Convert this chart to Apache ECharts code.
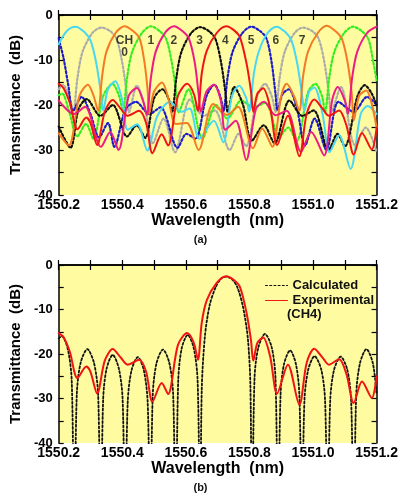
<!DOCTYPE html>
<html>
<head>
<meta charset="utf-8">
<script src="https://cdn.jsdelivr.net/npm/echarts@6/dist/echarts.min.js"></script>
<style>
  html, body { margin: 0; padding: 0; background: #fff; }
  #chart { width: 401px; height: 494px; }
</style>
</head>
<body>
<div id="chart"></div>
<script>
// wavelength (nm), transmittance (dB)

// panel (a): eight demux channels
const ch0 = [[1550.200,-26.3],[1550.232,-29],[1550.265,-18],[1550.292,-15.5],[1550.310,-18],[1550.324,-21.3],[1550.336,-14],[1550.350,-8.2],[1550.379,-4.0],[1550.407,-2.5],[1550.435,-3.6],[1550.455,-5.3],[1550.470,-10.6],[1550.480,-17],[1550.484,-22],[1550.500,-17],[1550.525,-15],[1550.545,-18.5],[1550.568,-24.2],[1550.603,-24],[1550.640,-30],[1550.686,-19.8],[1550.729,-22.2],[1550.764,-20.4],[1550.811,-29.6],[1550.840,-25.2],[1550.872,-29.3],[1550.900,-18],[1550.917,-15.3],[1550.940,-18],[1550.957,-21.3],[1550.968,-14],[1550.984,-8.2],[1551.015,-4],[1551.043,-2.4],[1551.071,-3.6],[1551.091,-5.3],[1551.109,-10.6],[1551.122,-17.5],[1551.128,-23.5],[1551.145,-18],[1551.167,-16.8],[1551.200,-25]];
const ch1 = [[1550.200,-17.8],[1550.211,-17.5],[1550.235,-22],[1550.258,-27],[1550.286,-24.2],[1550.309,-27.5],[1550.340,-18],[1550.369,-15.3],[1550.390,-18],[1550.402,-21.5],[1550.415,-14],[1550.431,-8.2],[1550.462,-4.0],[1550.490,-2.5],[1550.518,-3.6],[1550.538,-5.3],[1550.556,-10.6],[1550.570,-17.5],[1550.577,-21.6],[1550.608,-16.5],[1550.652,-27.5],[1550.695,-20],[1550.730,-23],[1550.775,-19],[1550.812,-20.5],[1550.850,-19.5],[1550.894,-27],[1550.922,-25],[1550.948,-28],[1550.985,-17],[1551.008,-15.3],[1551.028,-18],[1551.038,-21.5],[1551.051,-14],[1551.067,-8.2],[1551.098,-4.0],[1551.126,-2.6],[1551.154,-3.6],[1551.174,-5.3],[1551.190,-10.6],[1551.200,-14.5]];
const ch2 = [[1550.200,-19],[1550.248,-22],[1550.283,-20.4],[1550.333,-29.3],[1550.362,-26],[1550.388,-30],[1550.420,-18],[1550.446,-16.2],[1550.465,-19],[1550.477,-22.2],[1550.490,-14],[1550.505,-8.2],[1550.534,-4],[1550.562,-2.5],[1550.590,-3.6],[1550.610,-5.3],[1550.628,-10.6],[1550.640,-17.5],[1550.647,-21.5],[1550.665,-17],[1550.688,-15.5],[1550.710,-19],[1550.724,-25.5],[1550.757,-23.5],[1550.790,-32.2],[1550.820,-21],[1550.846,-19.3],[1550.882,-22.3],[1550.917,-21.3],[1550.962,-30.4],[1550.994,-26],[1551.035,-31.2],[1551.060,-19],[1551.078,-16],[1551.100,-19],[1551.110,-22],[1551.123,-14],[1551.139,-8.2],[1551.170,-4],[1551.200,-2.6]];
const ch3 = [[1550.200,-24.8],[1550.237,-29.5],[1550.262,-21],[1550.288,-18.7],[1550.331,-22.4],[1550.370,-20],[1550.415,-27],[1550.445,-24.5],[1550.472,-27.3],[1550.500,-18.5],[1550.526,-16.5],[1550.545,-18.5],[1550.557,-21.5],[1550.570,-14],[1550.586,-8.2],[1550.617,-4.0],[1550.645,-2.7],[1550.673,-3.6],[1550.693,-5.3],[1550.711,-10.6],[1550.725,-17.5],[1550.732,-21.6],[1550.752,-16],[1550.780,-20],[1550.807,-28],[1550.845,-24.5],[1550.879,-28.5],[1550.926,-19],[1550.967,-22.4],[1551.002,-21.2],[1551.049,-30],[1551.077,-26.4],[1551.100,-29.2],[1551.140,-18],[1551.163,-15.6],[1551.185,-17.5],[1551.200,-20]];
const ch4 = [[1550.200,-15.3],[1550.215,-16.2],[1550.235,-19.5],[1550.259,-25.4],[1550.287,-22.8],[1550.300,-24],[1550.321,-28.9],[1550.345,-21.5],[1550.370,-18.9],[1550.395,-20.8],[1550.417,-22.4],[1550.453,-21.3],[1550.475,-24],[1550.495,-30.7],[1550.524,-26.5],[1550.544,-29.0],[1550.575,-18],[1550.604,-15.3],[1550.625,-17.5],[1550.638,-21.3],[1550.650,-13],[1550.666,-7.9],[1550.697,-4.0],[1550.727,-2.5],[1550.750,-3.3],[1550.770,-4.9],[1550.791,-10.8],[1550.805,-17],[1550.812,-21.5],[1550.825,-17.5],[1550.843,-16.3],[1550.865,-20.5],[1550.887,-28.9],[1550.921,-22.4],[1550.957,-31.4],[1550.980,-22],[1551.004,-18.8],[1551.030,-20.8],[1551.050,-22.4],[1551.082,-21.2],[1551.105,-24.5],[1551.128,-31.0],[1551.154,-26.2],[1551.185,-29.9],[1551.200,-25]];
const ch5 = [[1550.200,-5.2],[1550.215,-9.5],[1550.230,-15.5],[1550.245,-21.3],[1550.272,-18.2],[1550.300,-22],[1550.327,-27.2],[1550.355,-24],[1550.375,-29.3],[1550.410,-21],[1550.443,-19.3],[1550.485,-22],[1550.520,-20.5],[1550.574,-29.5],[1550.602,-26.4],[1550.630,-27.5],[1550.665,-18],[1550.690,-15.5],[1550.710,-18.5],[1550.718,-21.5],[1550.731,-14],[1550.747,-8.2],[1550.778,-4],[1550.806,-2.6],[1550.834,-3.6],[1550.854,-5.3],[1550.870,-10.6],[1550.882,-17.5],[1550.888,-21],[1550.905,-17.5],[1550.924,-16.5],[1550.950,-21],[1550.975,-29],[1551.005,-23],[1551.042,-30],[1551.080,-19.3],[1551.128,-21.5],[1551.170,-18.2],[1551.200,-20]];
const ch6 = [[1550.200,-6.5],[1550.225,-3.6],[1550.253,-2.6],[1550.281,-3.8],[1550.301,-5.8],[1550.319,-11],[1550.333,-17.5],[1550.340,-21.3],[1550.355,-16.5],[1550.378,-14.7],[1550.400,-19],[1550.417,-25.5],[1550.447,-24.3],[1550.479,-30.1],[1550.510,-22.5],[1550.550,-19.3],[1550.585,-21.5],[1550.612,-20.8],[1550.642,-27.5],[1550.688,-23.5],[1550.718,-28.3],[1550.745,-18],[1550.768,-15.7],[1550.790,-18.5],[1550.799,-21.5],[1550.814,-13],[1550.830,-8],[1550.857,-4],[1550.885,-2.6],[1550.913,-3.8],[1550.933,-5.8],[1550.951,-11],[1550.965,-17.5],[1550.973,-21.3],[1550.988,-17],[1551.004,-16.1],[1551.030,-22],[1551.052,-30.5],[1551.082,-26.7],[1551.118,-34.2],[1551.150,-22],[1551.172,-20.2],[1551.200,-22]];
const ch7 = [[1550.200,-16.5],[1550.213,-15.5],[1550.235,-18.5],[1550.246,-21.5],[1550.259,-14],[1550.275,-8.2],[1550.306,-4.0],[1550.334,-2.8],[1550.362,-3.6],[1550.382,-5.3],[1550.400,-10.6],[1550.414,-17.5],[1550.421,-21.6],[1550.446,-15.7],[1550.470,-20],[1550.496,-28.5],[1550.530,-23],[1550.566,-30.5],[1550.613,-18.8],[1550.656,-22.4],[1550.691,-21.2],[1550.738,-30],[1550.766,-26.4],[1550.789,-29.2],[1550.825,-18],[1550.849,-15.3],[1550.870,-18],[1550.882,-21.5],[1550.895,-14],[1550.911,-8.2],[1550.942,-4],[1550.969,-2.8],[1550.998,-3.6],[1551.018,-5.3],[1551.036,-10.6],[1551.050,-17.5],[1551.057,-21.6],[1551.088,-16],[1551.132,-28.9],[1551.166,-25],[1551.200,-30.5]];

const chPeak = [1550.407, 1550.490, 1550.562, 1550.643, 1550.724, 1550.805, 1550.883, 1550.966];
const chNames = ['CH\n0', '1', '2', '3', '4', '5', '6', '7'];

// panel (b): CH4, calculated vs experimental (experimental = ch4)
const calcCh4 = [[1550.200,-16.5],[1550.210,-16],[1550.229,-19],[1550.241,-26],[1550.249,-60],
  [1550.257,-29],[1550.269,-22],[1550.290,-18.9],[1550.311,-22],[1550.324,-29],[1550.332,-60],
  [1550.340,-30],[1550.351,-23.2],[1550.370,-20.2],[1550.389,-23.2],[1550.401,-30],[1550.409,-60],
  [1550.417,-31],[1550.429,-23.7],[1550.449,-20.7],[1550.468,-23.7],[1550.480,-31],[1550.488,-60],
  [1550.496,-29],[1550.508,-22],[1550.528,-19],[1550.548,-22],[1550.560,-29],[1550.568,-60],
  [1550.576,-26],[1550.587,-18.7],[1550.606,-15.7],[1550.625,-18.7],[1550.637,-26],[1550.645,-60],
  [1550.650,-28],[1550.660,-16],[1550.675,-9],[1550.695,-4.8],[1550.712,-3],[1550.727,-2.6],[1550.745,-3.2],[1550.762,-5],[1550.780,-9.5],[1550.795,-16.5],[1550.803,-27],[1550.808,-60],
  [1550.816,-25.5],[1550.828,-18.5],[1550.849,-15.5],[1550.870,-18.5],[1550.882,-25.5],[1550.890,-60],
  [1550.898,-29],[1550.909,-22.2],[1550.928,-19.2],[1550.946,-22.2],[1550.957,-29],[1550.965,-60],
  [1550.973,-30.5],[1550.985,-23.5],[1551.005,-20.5],[1551.026,-23.5],[1551.038,-30.5],[1551.046,-60],
  [1551.054,-30.6],[1551.066,-23.6],[1551.087,-20.6],[1551.108,-23.6],[1551.120,-30.6],[1551.128,-60],
  [1551.136,-29],[1551.148,-22],[1551.168,-18.9],[1551.188,-22],[1551.200,-29]];

const FONT = '"Liberation Sans", Arial, sans-serif';
const PLOT_BG = '#FFFBA0';
const GRID_A = {left: 57, top: 15, width: 321, height: 180};
const GRID_B = {left: 57, top: 265, width: 321, height: 178};

const chColors = ['#F47A24', '#33EE22', '#EC1C84', '#111111', '#F01414', '#1C1CCC', '#48D8F4', '#ABABAB'];
const chDotted = [false, true, false, true, false, true, false, true];
const drawOrder = [7, 1, 5, 3, 6, 0, 2, 4];

function xAxisPair(grid) {
    const base = {
        type: 'value', gridIndex: grid, min: 1550.2, max: 1551.2, interval: 0.2,
        axisLine: {show: true, lineStyle: {color: '#000', width: 1.5}},
        axisTick: {show: true, inside: true, length: 5, lineStyle: {color: '#000', width: 1.2}},
        minorTick: {show: true, splitNumber: 2, length: 5, lineStyle: {color: '#000', width: 1.2}},
        splitLine: {show: false}
    };
    return [
        Object.assign({}, base, {
            position: 'bottom',
            name: 'Wavelength  (nm)', nameLocation: 'middle', nameGap: 15,
            nameTextStyle: {fontFamily: FONT, fontWeight: 'bold', fontSize: 16, color: '#000'},
            axisLabel: {margin: 3, fontFamily: FONT, fontWeight: 'bold', fontSize: 14, color: '#000',
                formatter: v => v.toFixed(1)}
        }),
        Object.assign({}, base, {position: 'top', axisLabel: {show: false}})
    ];
}

function yAxisPair(grid) {
    const base = {
        type: 'value', gridIndex: grid, min: -40, max: 0, interval: 10,
        axisLine: {show: true, lineStyle: {color: '#000', width: 1.5}},
        axisTick: {show: true, inside: true, length: 5, lineStyle: {color: '#000', width: 1.2}},
        minorTick: {show: true, splitNumber: 2, length: 5, lineStyle: {color: '#000', width: 1.2}},
        splitLine: {show: false}
    };
    return [
        Object.assign({}, base, {
            position: 'left',
            name: 'Transmittance  (dB)', nameLocation: 'middle', nameGap: 28, nameRotate: 90,
            nameTextStyle: {fontFamily: FONT, fontWeight: 'bold', fontSize: 15, color: '#000'},
            axisLabel: {margin: 6, fontFamily: FONT, fontWeight: 'bold', fontSize: 13, color: '#000'}
        }),
        Object.assign({}, base, {position: 'right', axisLabel: {show: false}})
    ];
}

function curve(name, data, color, dotted, xi, yi, width) {
    return {
        name, type: 'line', xAxisIndex: xi, yAxisIndex: yi, data,
        smooth: 0.3, symbol: 'none', clip: true, silent: true,
        itemStyle: {color},
        lineStyle: {color, width: width, type: dotted ? [2, 2.2] : 'solid', cap: 'round'}
    };
}

const chData = [ch0, ch1, ch2, ch3, ch4, ch5, ch6, ch7];
const series = drawOrder.map(i =>
    curve('CH' + i, chData[i], chColors[i], chDotted[i], 0, 0, chDotted[i] ? 2.2 : 2));

series.push({
    type: 'scatter', xAxisIndex: 0, yAxisIndex: 0, symbolSize: 0, silent: true,
    itemStyle: {color: 'transparent'},
    label: {show: true, position: 'inside', fontFamily: FONT, fontWeight: 'bold', fontSize: 12,
        lineHeight: 12, color: '#111', formatter: p => chNames[p.dataIndex]},
    data: chPeak.map((x, i) => i === 0 ? {value: [x, -5.6], label: {offset: [0, 6]}} : [x, -5.6]),
    z: 10
});

series.push(curve('Calculated', calcCh4, '#111', true, 2, 2, 1.8));
series.push(curve('Experimental', ch4, '#F01414', false, 2, 2, 2));

const chart = echarts.init(document.getElementById('chart'), null, {renderer: 'canvas'});
chart.setOption({
    animation: false,
    backgroundColor: '#fff',
    grid: [
        Object.assign({show: true, backgroundColor: PLOT_BG, borderWidth: 0}, GRID_A),
        Object.assign({show: true, backgroundColor: PLOT_BG, borderWidth: 0}, GRID_B)
    ],
    xAxis: xAxisPair(0).concat(xAxisPair(1)),
    yAxis: yAxisPair(0).concat(yAxisPair(1)),
    legend: {
        data: ['Calculated', 'Experimental'],
        orient: 'vertical', left: 260, top: 274,
        itemWidth: 22, itemHeight: 14, itemGap: 2,
        itemStyle: {opacity: 0},
        lineStyle: {width: 1},
        textStyle: {fontFamily: FONT, fontWeight: 'bold', fontSize: 13, color: '#111'}
    },
    graphic: [
        {type: 'text', left: 287, top: 308,
            style: {text: '(CH4)', font: 'bold 13px ' + FONT, fill: '#111'}},
        {type: 'text', left: 'center', top: 234,
            style: {text: '(a)', font: 'bold 11px ' + FONT, fill: '#111'}},
        {type: 'text', left: 'center', top: 482,
            style: {text: '(b)', font: 'bold 11px ' + FONT, fill: '#111'}}
    ],
    series
});
</script>
</body>
</html>
